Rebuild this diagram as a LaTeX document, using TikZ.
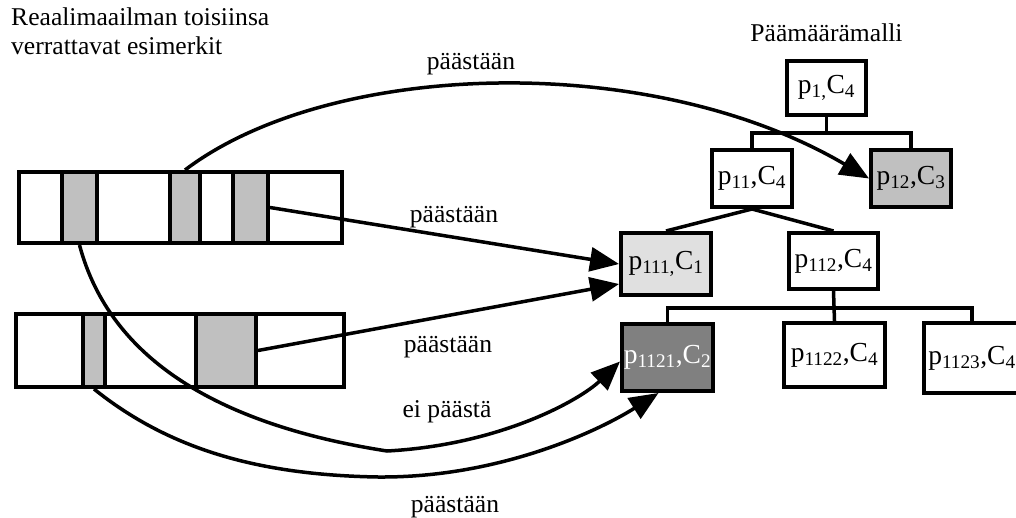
\documentclass[tikz,border=0pt]{standalone}
\usepackage{fontspec}
\setmainfont{Liberation Serif}
\usetikzlibrary{arrows.meta,calc}

\tikzset{
  lbl/.style={inner sep=0pt, anchor=base, font=\fontsize{25.6}{29}\selectfont},
  goal/.style={draw, line width=4pt, inner sep=0pt, fill=white,
               font=\fontsize{27.5}{30}\selectfont},
  exbox/.style={draw, line width=4pt, inner sep=0pt, fill=white},
  stripe/.style={draw, line width=4pt, inner sep=0pt, fill=stripegray},
  link/.style={line width=3.5pt},
  conn/.style={line width=3.5pt, -{Triangle[length=29pt,width=24pt]}},
}
\definecolor{stripegray}{HTML}{C0C0C0}
\definecolor{lightgoal}{HTML}{E0E0E0}
\definecolor{darkgoal}{HTML}{808080}

\begin{document}
\begin{tikzpicture}[x=1pt,y=-1pt]
\useasboundingbox (0,0) rectangle (1016,518);

% headings
\node[lbl, anchor=base west] (h1) at (11,26) {Reaalimaailman toisiinsa};
\node[lbl, anchor=base west] (h2) at (11,55) {verrattavat esimerkit};
\node[lbl] (h3) at (826.5,42) {Päämäärämalli};

% example strips
\node[exbox, minimum width=323, minimum height=71] (ex1) at (180.5,207.5) {};
\node[stripe, minimum width=35, minimum height=71] (s11) at (79.5,207.5) {};
\node[stripe, minimum width=30, minimum height=71] (s12) at (185,207.5) {};
\node[stripe, minimum width=35, minimum height=71] (s13) at (250.5,207.5) {};

\node[exbox, minimum width=328, minimum height=73] (ex2) at (180,350.5) {};
\node[stripe, minimum width=22, minimum height=73] (s21) at (94,350.5) {};
\node[stripe, minimum width=60, minimum height=73] (s22) at (226,350.5) {};

% goal tree
\node[goal, minimum width=79, minimum height=54] (p1) at (826.5,88)
  {p\textsubscript{1,}C\textsubscript{4}};
\node[goal, minimum width=80, minimum height=57] (p11) at (752,178.5)
  {p\textsubscript{11},C\textsubscript{4}};
\node[goal, fill=stripegray, minimum width=80, minimum height=57] (p12) at (911,178.5)
  {p\textsubscript{12},C\textsubscript{3}};
\node[goal, fill=lightgoal, minimum width=90, minimum height=62] (p111) at (666,264)
  {p\textsubscript{111,}C\textsubscript{1}};
\node[goal, minimum width=89, minimum height=56] (p112) at (833.5,261)
  {p\textsubscript{112},C\textsubscript{4}};
\node[goal, fill=darkgoal, text=white, minimum width=91, minimum height=67] (p1121) at (667.5,357.5)
  {p\textsubscript{1121},C\textsubscript{2}};
\node[goal, minimum width=101, minimum height=64] (p1122) at (834.5,355)
  {p\textsubscript{1122},C\textsubscript{4}};
\node[goal, minimum width=96, minimum height=70] (p1123) at (972,358)
  {p\textsubscript{1123},C\textsubscript{4}};

% tree edges
\coordinate (bar1) at ($(p1.south)+(0,16)$);
\draw[link] (p1.south) -- (bar1);
\draw[link] (p11.north) |- (bar1) -| (p12.north);
\draw[link] (p111.north) -- (p11.south) -- (p112.north);
\coordinate (bar2) at ($(p112.south)+(0,17)$);
\draw[link] (p112.south) -- (p1122.north);
\draw[link] (p1121.north) |- (bar2) -| (p1123.north);

% connectors from examples to goals
\draw[conn] (s12.north) .. controls (330,60) and (650,50) .. (p12.west);
\draw[conn] (s13.east) -- (p111.west);
\draw[conn] (s22.east) -- ($(p111.south west)+(0,-13)$);
\draw[conn] (s11.south) .. controls (110,360) and (220,425) .. (387,451)
  .. controls (500,445) and (580,400) .. ($(p1121.west)+(0,4)$);
\draw[conn] (s21.south) .. controls (170,450) and (260,475) .. (378,477)
  .. controls (500,478) and (600,430) .. ($(p1121.south)+(-9,0)$);

% connector labels
\node[lbl] (l1) at (471,70) {päästään};
\node[lbl] (l2) at (454,223) {päästään};
\node[lbl] (l3) at (448,352) {päästään};
\node[lbl] (l4) at (447,417) {ei päästä};
\node[lbl] (l5) at (455,512) {päästään};
\end{tikzpicture}
\end{document}
